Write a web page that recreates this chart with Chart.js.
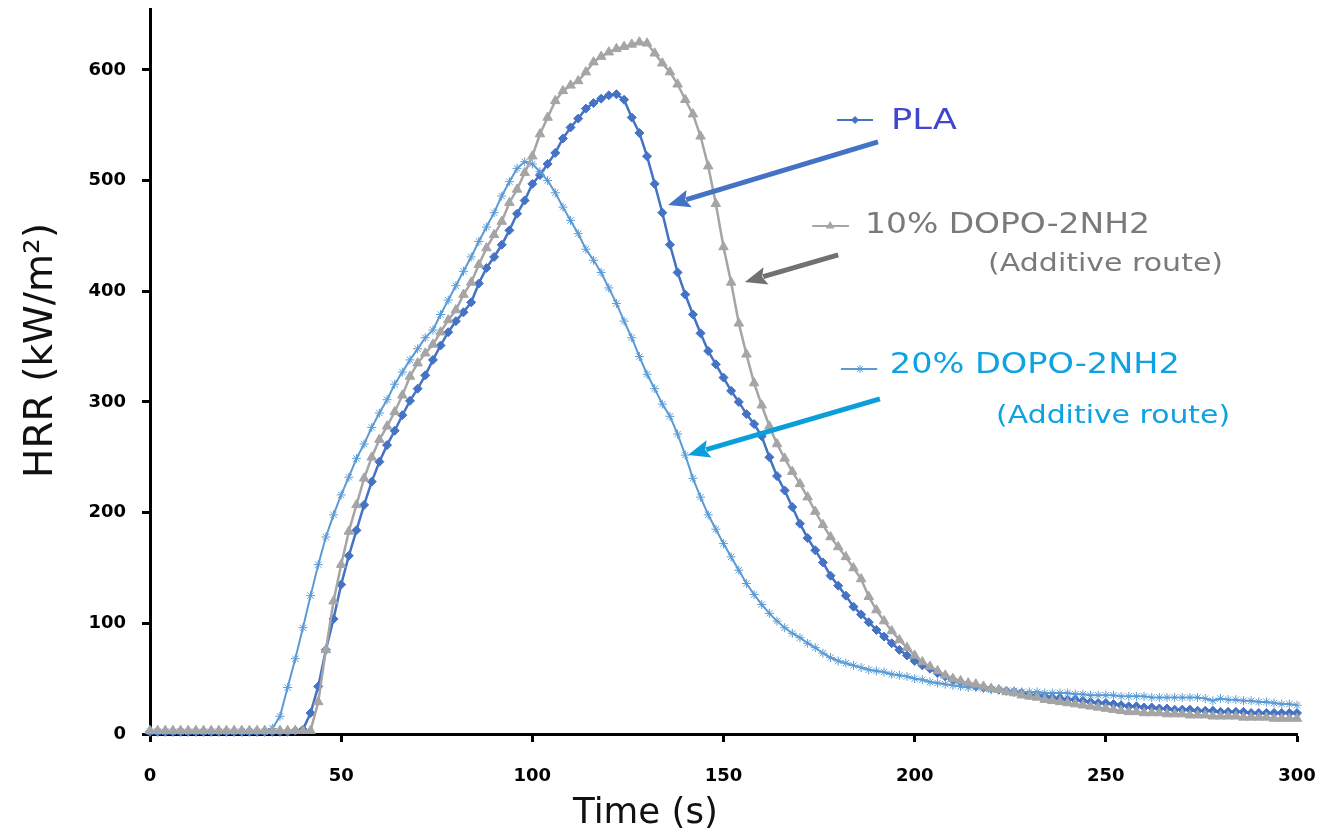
<!DOCTYPE html>
<html>
<head>
<meta charset="utf-8">
<script src="https://cdn.jsdelivr.net/npm/chart.js@4.4.0/dist/chart.umd.min.js"></script>
<style>
  html, body { margin: 0; padding: 0; background: #fff; }
</style>
</head>
<body>
<canvas id="myChart" width="1320" height="837"></canvas>
<script>
//DATOS
const tiempo = [0,2,4,6,8,10,12,14,16,18,20,22,24,26,28,30,32,34,36,38,40,42,44,46,48,50,52,54,56,58,60,62,64,66,68,70,72,74,76,78,80,82,84,86,88,90,92,94,96,98,100,102,104,106,108,110,112,114,116,118,120,122,124,126,128,130,132,134,136,138,140,142,144,146,148,150,152,154,156,158,160,162,164,166,168,170,172,174,176,178,180,182,184,186,188,190,192,194,196,198,200,202,204,206,208,210,212,214,216,218,220,222,224,226,228,230,232,234,236,238,240,242,244,246,248,250,252,254,256,258,260,262,264,266,268,270,272,274,276,278,280,282,284,286,288,290,292,294,296,298,300];

const hrrPLA = [
  2,2,2,2,2,2,2,2,2,2,2,2,2,2,2,2,2,2,2,3,
  4,19,43,76,104,135,161,184,207,228,
  246,261,274,288,301,312,324,338,351,363,
  373,381,390,407,421,431,442,455,470,482,
  497,505,515,525,538,548,556,565,570,574,
  577,578,573,557,543,522,497,471,442,417,
  397,379,362,346,334,322,310,300,289,280,
  269,250,233,220,205,190,177,166,155,143,
  134,125,115,108,101,94,88,82,76,71,
  66,62,59,55,52,49,47,45,43,42,
  41,40,39,38,37,35,35,34,33,32,
  31,31,30,29,28,28,27,26,25,25,
  24,24,23,23,22,22,22,21,21,21,
  20,20,20,20,19,19,19,19,19,19,
  19
];

const hrrDopo10 = [
  3,3,3,3,3,3,3,3,3,3,3,3,3,3,3,3,3,3,3,3,3,3,
  29,76,120,153,183,207,231,250,266,278,
  291,306,323,335,344,352,363,374,383,397,
  408,424,439,451,463,480,492,507,522,542,
  557,572,581,586,590,598,607,612,616,619,
  621,623,625,624,615,606,598,587,573,560,
  540,513,479,440,408,371,343,317,297,278,
  262,249,237,226,214,201,189,178,169,160,
  150,140,124,112,102,93,85,78,71,65,
  61,57,53,50,48,46,45,43,41,40,
  38,37,35,34,33,31,30,29,28,27,
  26,25,24,23,22,21,20,20,19,19,
  19,18,18,18,17,17,17,16,16,16,
  16,15,15,15,15,14,14,14,14
];

const hrrDopo20 = [
  2,2,2,2,2,2,2,2,2,2,2,2,2,2,2,2,
  5,16,42,68,96,125,153,178,198,216,
  232,249,262,277,290,302,316,327,338,348,
  358,365,379,392,405,418,431,445,458,471,
  486,499,511,517,515,508,500,489,476,464,
  452,438,428,417,403,389,373,358,341,325,
  312,298,287,271,252,231,214,198,185,172,
  160,148,136,126,117,109,102,96,91,87,
  82,78,73,69,66,64,62,60,58,57,
  56,54,53,52,50,49,47,46,45,44,
  43,42,42,41,40,40,39,39,38,38,
  38,37,37,37,37,36,36,35,35,35,
  35,34,34,34,34,33,33,33,33,33,
  33,33,32,30,32,31,31,30,30,29,
  29,28,27,27,26
];

const series = ["PLA", "10% DOPO-2NH2", "20% DOPO-2NH2"];
const ruta = "(Additive route)";
const tituloX = "Time (s)";
const tituloY = "HRR (kW/m²)";

//FUNCIONES
function puntos(valores) {
  return tiempo.map((t, i) => ({ x: t, y: valores[i] }));
}

// texto estirado en horizontal hasta un ancho dado
function textoAjustado(ctx, txt, x, y, ancho, fuente, color) {
  ctx.save();
  ctx.font = fuente;
  const w = ctx.measureText(txt).width;
  ctx.translate(x, y);
  ctx.scale(ancho / w, 1);
  ctx.fillStyle = color;
  ctx.textAlign = "left";
  ctx.textBaseline = "alphabetic";
  ctx.fillText(txt, 0, 0);
  ctx.restore();
}

function marcador(ctx, estilo, x, y, r, color) {
  ctx.save();
  ctx.fillStyle = color;
  ctx.strokeStyle = color;
  ctx.lineWidth = 1;
  ctx.beginPath();
  if (estilo === "rectRot") {
    ctx.moveTo(x, y - r); ctx.lineTo(x + r, y); ctx.lineTo(x, y + r); ctx.lineTo(x - r, y);
    ctx.closePath(); ctx.fill();
  } else if (estilo === "triangle") {
    ctx.moveTo(x, y - r); ctx.lineTo(x + r * 0.866, y + r / 2); ctx.lineTo(x - r * 0.866, y + r / 2);
    ctx.closePath(); ctx.fill();
  } else {
    ctx.moveTo(x - r, y); ctx.lineTo(x + r, y);
    ctx.moveTo(x, y - r); ctx.lineTo(x, y + r);
    ctx.moveTo(x - r * 0.7, y - r * 0.7); ctx.lineTo(x + r * 0.7, y + r * 0.7);
    ctx.moveTo(x - r * 0.7, y + r * 0.7); ctx.lineTo(x + r * 0.7, y - r * 0.7);
    ctx.stroke();
  }
  ctx.restore();
}

function flecha(ctx, x1, y1, x2, y2, color, grosor) {
  const ang = Math.atan2(y2 - y1, x2 - x1);
  const largo = 22, ancho = 9;
  const bx = x2 - largo * Math.cos(ang), by = y2 - largo * Math.sin(ang);
  ctx.save();
  ctx.strokeStyle = color;
  ctx.fillStyle = color;
  ctx.lineWidth = grosor;
  ctx.beginPath(); ctx.moveTo(x1, y1); ctx.lineTo(bx + 3 * Math.cos(ang), by + 3 * Math.sin(ang)); ctx.stroke();
  ctx.beginPath();
  ctx.moveTo(x2, y2);
  ctx.lineTo(bx + ancho * Math.sin(ang), by - ancho * Math.cos(ang));
  ctx.lineTo(bx + 4 * Math.cos(ang), by + 4 * Math.sin(ang));
  ctx.lineTo(bx - ancho * Math.sin(ang), by + ancho * Math.cos(ang));
  ctx.closePath(); ctx.fill();
  ctx.restore();
}

// leyendas, flechas y titulos de ejes
const anotaciones = {
  id: "anotaciones",
  afterDatasetsDraw(chart) {
    const ctx = chart.ctx;
    const sx = chart.scales.x, sy = chart.scales.y;
    const X = (t) => sx.getPixelForValue(t);
    const Y = (v) => sy.getPixelForValue(v);

    // muestras de leyenda
    const claves = [
      { t1: 179.7, t2: 189.1, v: 554.7, tm: 184.4, estilo: "rectRot", r: 4, color: "#4472C4" },
      { t1: 173.2, t2: 182.8, v: 459.0, tm: 177.9, estilo: "triangle", r: 5, color: "#A5A5A5" },
      { t1: 180.7, t2: 190.2, v: 329.8, tm: 185.7, estilo: "star", r: 4, color: "#5B9BD5" },
    ];
    claves.forEach((c) => {
      ctx.save();
      ctx.strokeStyle = c.color;
      ctx.lineWidth = 2;
      ctx.beginPath();
      ctx.moveTo(X(c.t1), Y(c.v));
      ctx.lineTo(X(c.t2), Y(c.v));
      ctx.stroke();
      ctx.restore();
      marcador(ctx, c.estilo, X(c.tm), Y(c.v), c.r, c.color);
    });

    textoAjustado(ctx, series[0], X(193.8), Y(546.6), 66, "29px 'DejaVu Sans'", "#4047CC");
    textoAjustado(ctx, series[1], X(187.0), Y(452.6), 285, "29px 'DejaVu Sans'", "#7A7A7A");
    textoAjustado(ctx, ruta, X(219.2), Y(418.3), 235, "25px 'DejaVu Sans'", "#7A7A7A");
    textoAjustado(ctx, series[2], X(193.5), Y(326.1), 290, "29px 'DejaVu Sans'", "#0EA2E2");
    textoAjustado(ctx, ruta, X(221.3), Y(281.0), 234, "25px 'DejaVu Sans'", "#0EA2E2");

    flecha(ctx, X(190.4), Y(534.9), X(135.5), Y(477.9), "#4472C4", 5);
    flecha(ctx, X(180.0), Y(432.8), X(155.6), Y(408.4), "#717171", 5);
    flecha(ctx, X(190.9), Y(302.7), X(140.7), Y(252.1), "#0A9FDB", 5);

    // titulos de ejes
    textoAjustado(ctx, tituloX, 573, 823, 145, "36px 'DejaVu Sans'", "#111111");
    ctx.save();
    ctx.translate(52, 351);
    ctx.rotate(-Math.PI / 2);
    textoAjustado(ctx, tituloY, -127, 0, 255, "39px 'DejaVu Sans'", "#111111");
    ctx.restore();
  },
};

const ejeComun = {
  grid: { display: true, drawOnChartArea: false, drawTicks: true, tickLength: 8, tickWidth: 3, tickColor: "#000" },
  border: { display: true, color: "#000", width: 3 },
};

const config = {
  type: "line",
  data: {
    datasets: [
      {
        label: series[0],
        data: puntos(hrrPLA),
        borderColor: "#4472C4",
        backgroundColor: "#4472C4",
        borderWidth: 2.5,
        pointStyle: "rectRot",
        pointRadius: 4.5,
        pointBorderWidth: 1,
        tension: 0,
        clip: false,
        order: 2,
      },
      {
        label: series[1],
        data: puntos(hrrDopo10),
        borderColor: "#A5A5A5",
        backgroundColor: "#A5A5A5",
        borderWidth: 2.5,
        pointStyle: "triangle",
        pointRadius: 5.5,
        pointBorderWidth: 1,
        tension: 0,
        clip: false,
        order: 0,
      },
      {
        label: series[2],
        data: puntos(hrrDopo20),
        borderColor: "#5B9BD5",
        backgroundColor: "#5B9BD5",
        borderWidth: 2,
        pointStyle: "star",
        pointRadius: 4.5,
        pointBorderWidth: 1,
        tension: 0,
        clip: false,
        order: 1,
      },
    ],
  },
  plugins: [anotaciones],
  options: {
    responsive: false,
    animation: false,
    layout: { padding: { left: 0, right: 23, top: 9, bottom: 0 } },
    plugins: {
      legend: { display: false },
      tooltip: { enabled: false },
    },
    scales: {
      x: {
        type: "linear",
        min: 0,
        max: 300,
        ...ejeComun,
        ticks: {
          stepSize: 50,
          padding: 24,
          color: "#000",
          font: { family: "DejaVu Sans", weight: "bold", size: 18 },
        },
        afterFit(scale) {
          scale.height = 103;
          scale.paddingLeft = 0;
          scale.paddingRight = 0;
        },
      },
      y: {
        min: 0,
        max: 655,
        ...ejeComun,
        ticks: {
          stepSize: 100,
          includeBounds: false,
          padding: 16,
          color: "#000",
          font: { family: "DejaVu Sans", weight: "bold", size: 18 },
        },
        afterFit(scale) {
          scale.width = 150;
          scale.paddingTop = 0;
          scale.paddingBottom = 0;
        },
      },
    },
  },
};

const myChart = new Chart(document.getElementById("myChart"), config);
</script>
</body>
</html>
